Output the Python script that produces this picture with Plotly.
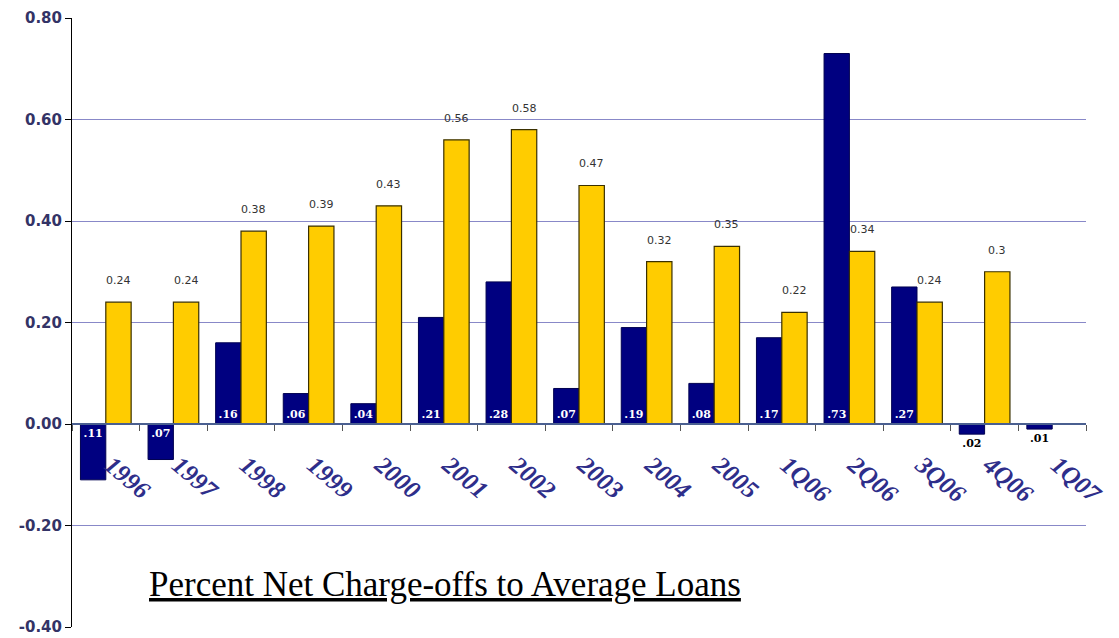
import plotly.graph_objects as go

categories = ["1996", "1997", "1998", "1999", "2000", "2001", "2002", "2003",
              "2004", "2005", "1Q06", "2Q06", "3Q06", "4Q06", "1Q07"]
bank_values = [-0.11, -0.07, 0.16, 0.06, 0.04, 0.21, 0.28, 0.07,
               0.19, 0.08, 0.17, 0.73, 0.27, -0.02, -0.01]
peer_values = [0.24, 0.24, 0.38, 0.39, 0.43, 0.56, 0.58, 0.47,
               0.32, 0.35, 0.22, 0.34, 0.24, 0.30, None]
y_tick_values = [-0.4, -0.2, 0.0, 0.2, 0.4, 0.6, 0.8]
y_tick_labels = ["-0.40", "-0.20", "0.00", "0.20", "0.40", "0.60", "0.80"]
title_text = "Percent Net Charge-offs to Average Loans"

bank_text = [("%.2f" % abs(v)).lstrip("0") for v in bank_values]
bank_pos = ["inside" if abs(v) >= 0.04 else "outside" for v in bank_values]
bank_text_colors = ["white" if abs(v) >= 0.04 else "black" for v in bank_values]

fig = go.Figure()
fig.add_trace(go.Bar(
    x=categories, y=bank_values, name="Bank",
    marker=dict(color="#000080", line=dict(color="#000050", width=1)),
    text=bank_text, textposition=bank_pos, insidetextanchor="start",
    textangle=0,
    textfont=dict(family="DejaVu Serif", size=11, color=bank_text_colors,
                  weight="bold"),
    cliponaxis=False,
))
fig.add_trace(go.Bar(
    x=categories, y=peer_values, name="Peer",
    marker=dict(color="#FFCC00", line=dict(color="#3a3000", width=1.2)),
    cliponaxis=False,
))

annotations = []
for i, v in enumerate(peer_values):
    if v is None:
        continue
    annotations.append(dict(
        x=i, y=v, xref="x", yref="y", text=str(v), showarrow=False,
        xanchor="center", yanchor="bottom", xshift=12.7, yshift=13,
        font=dict(family="DejaVu Sans", size=11, color="#333333"),
    ))
annotations.append(dict(
    text="<u>" + title_text + "</u>", xref="paper", yref="paper",
    x=0.368, y=0.069, showarrow=False, xanchor="center", yanchor="middle",
    font=dict(family="Liberation Serif", size=35, color="black"),
))

fig.update_layout(
    width=1119, height=638,
    margin=dict(l=72, r=33, t=18, b=11),
    paper_bgcolor="white", plot_bgcolor="white",
    barmode="group", bargap=0.25, bargroupgap=0.0,
    showlegend=False,
    uniformtext=dict(mode="show", minsize=11),
    xaxis=dict(
        type="category", categoryorder="array", categoryarray=categories,
        range=[-0.5, len(categories) - 0.5],
        anchor="free", position=1/3, automargin=False,
        showline=True, linecolor="#4a5f90", linewidth=1.5,
        ticks="outside", tickson="boundaries", ticklen=6, tickcolor="#555555",
        tickangle=40, showgrid=False, ticklabelstandoff=16, ticklabelshift=5,
        tickfont=dict(family="Liberation Serif", size=25, color="#2e2e8a",
                      style="italic", weight="bold"),
    ),
    yaxis=dict(
        range=[-0.4, 0.8], tickvals=y_tick_values, ticktext=y_tick_labels,
        automargin=False,
        showline=True, linecolor="black", linewidth=1,
        ticks="outside", ticklen=6, tickcolor="black",
        showgrid=True, gridcolor="#8888c8", gridwidth=1, zeroline=False,
        tickfont=dict(family="DejaVu Sans", size=15, color="#333366", weight="bold"),
    ),
    annotations=annotations,
)

fig.write_html(
    "out.html",
    config={"displayModeBar": False},
    post_script="document.body.style.margin='0';document.body.style.overflow='hidden';",
)
